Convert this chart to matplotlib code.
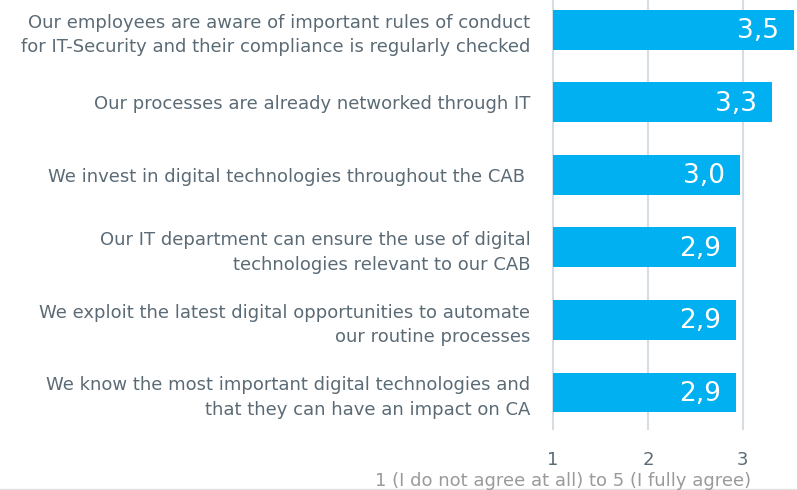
import matplotlib.pyplot as plt
from matplotlib.lines import Line2D

statements = [
    "Our employees are aware of important rules of conduct\nfor IT-Security and their compliance is regularly checked",
    "Our processes are already networked through IT",
    "We invest in digital technologies throughout the CAB ",
    "Our IT department can ensure the use of digital\ntechnologies relevant to our CAB",
    "We exploit the latest digital opportunities to automate\nour routine processes",
    "We know the most important digital technologies and\nthat they can have an impact on CA",
]
scores = [3.54, 3.31, 2.97, 2.93, 2.93, 2.93]
score_labels = ["3,5", "3,3", "3,0", "2,9", "2,9", "2,9"]
ticks = [1, 2, 3]

bar_color = "#00B0F0"
label_color = "#5B6B76"

fig = plt.figure(figsize=(7.97, 4.90), dpi=100)
ax = fig.add_axes([0.690, 0.122, 0.310, 0.878])

y = list(range(len(statements)))
widths = [s - 1 for s in scores]
ax.barh(y, widths, left=1, height=0.55, color=bar_color, zorder=2)

for yi, s, lab in zip(y, scores, score_labels):
    ax.annotate(lab, (s, yi), xytext=(-11, -1), textcoords="offset points",
                ha="right", va="center", color="white", fontsize=19, zorder=3)

ax.set_xlim(0.967, 3.57)
ax.set_ylim(5.52, -0.41)
ax.set_xticks(ticks)
ax.set_xticklabels([str(t) for t in ticks], fontsize=13, color=label_color)
ax.set_yticks(y)
ax.set_yticklabels(statements, fontsize=13, color=label_color, linespacing=1.45)
ax.tick_params(axis="y", length=0, pad=14)
ax.tick_params(axis="x", length=0, pad=15)
ax.grid(axis="x", color="#D6DEE4", linewidth=1.5, zorder=0)
ax.set_axisbelow(True)
for sp in ax.spines.values():
    sp.set_visible(False)

fig.text(0.706, 0.018, "1 (I do not agree at all) to 5 (I fully agree)",
         ha="center", va="center", fontsize=13, color="#9A9A9A")
fig.add_artist(Line2D([0, 1], [0.003, 0.003], color="#E2E2E2", linewidth=1))

fig.savefig("out.png", dpi=100)
